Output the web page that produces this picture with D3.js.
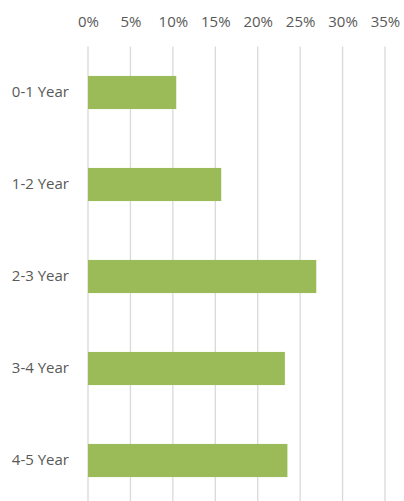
<!DOCTYPE html>
<html lang="en">
<head>
    <meta charset="UTF-8">
    <title>Bar chart</title>
    <style>
        body { margin: 0; padding: 0; background: #fff; }
        svg { display: block; }
    </style>
</head>
<body>
    <script src="https://d3js.org/d3.v7.min.js"></script>
    <script>
        // data
        const categories = ['0-1 Year', '1-2 Year', '2-3 Year', '3-4 Year', '4-5 Year'];
        const shares = [0.104, 0.157, 0.269, 0.232, 0.235];
        const ticks = [0, 0.05, 0.10, 0.15, 0.20, 0.25, 0.30, 0.35];

        const width = 404, height = 501;

        const svg = d3.select('body')
            .append('svg')
            .attr('width', width)
            .attr('height', height);

        // scales
        const x = d3.scaleLinear().domain([0, 0.35]).range([88, 385]);
        const y = d3.scaleBand()
            .domain(categories)
            .range([46.5, 506.5])
            .paddingInner(0.64)
            .paddingOuter(0.32);

        // vertical gridlines
        svg.append('g')
            .selectAll('line')
            .data(ticks)
            .join('line')
            .attr('x1', d => x(d))
            .attr('x2', d => x(d))
            .attr('y1', 46.5)
            .attr('y2', height)
            .attr('stroke', '#d9d9d9')
            .attr('stroke-width', 1.3);

        // top axis labels
        const xAxis = d3.axisTop(x)
            .tickValues(ticks)
            .tickFormat(d3.format('.0%'))
            .tickSize(0)
            .tickPadding(0);
        const gx = svg.append('g')
            .attr('transform', 'translate(0,27)')
            .call(xAxis);
        gx.select('.domain').remove();
        gx.selectAll('text')
            .attr('fill', '#595959')
            .attr('font-family', '"Open Sans", sans-serif')
            .attr('font-size', 15)
            .attr('dy', 0);

        // left axis labels
        const yAxis = d3.axisLeft(y).tickSize(0).tickPadding(19);
        const gy = svg.append('g')
            .attr('transform', 'translate(88,0)')
            .call(yAxis);
        gy.select('.domain').remove();
        gy.selectAll('text')
            .attr('fill', '#595959')
            .attr('font-family', '"Open Sans", sans-serif')
            .attr('font-size', 15);

        // bars
        svg.append('g')
            .selectAll('rect')
            .data(shares)
            .join('rect')
            .attr('x', x(0))
            .attr('y', (d, i) => y(categories[i]))
            .attr('width', d => x(d) - x(0))
            .attr('height', y.bandwidth())
            .attr('fill', '#9bbb59');
    </script>
</body>
</html>
